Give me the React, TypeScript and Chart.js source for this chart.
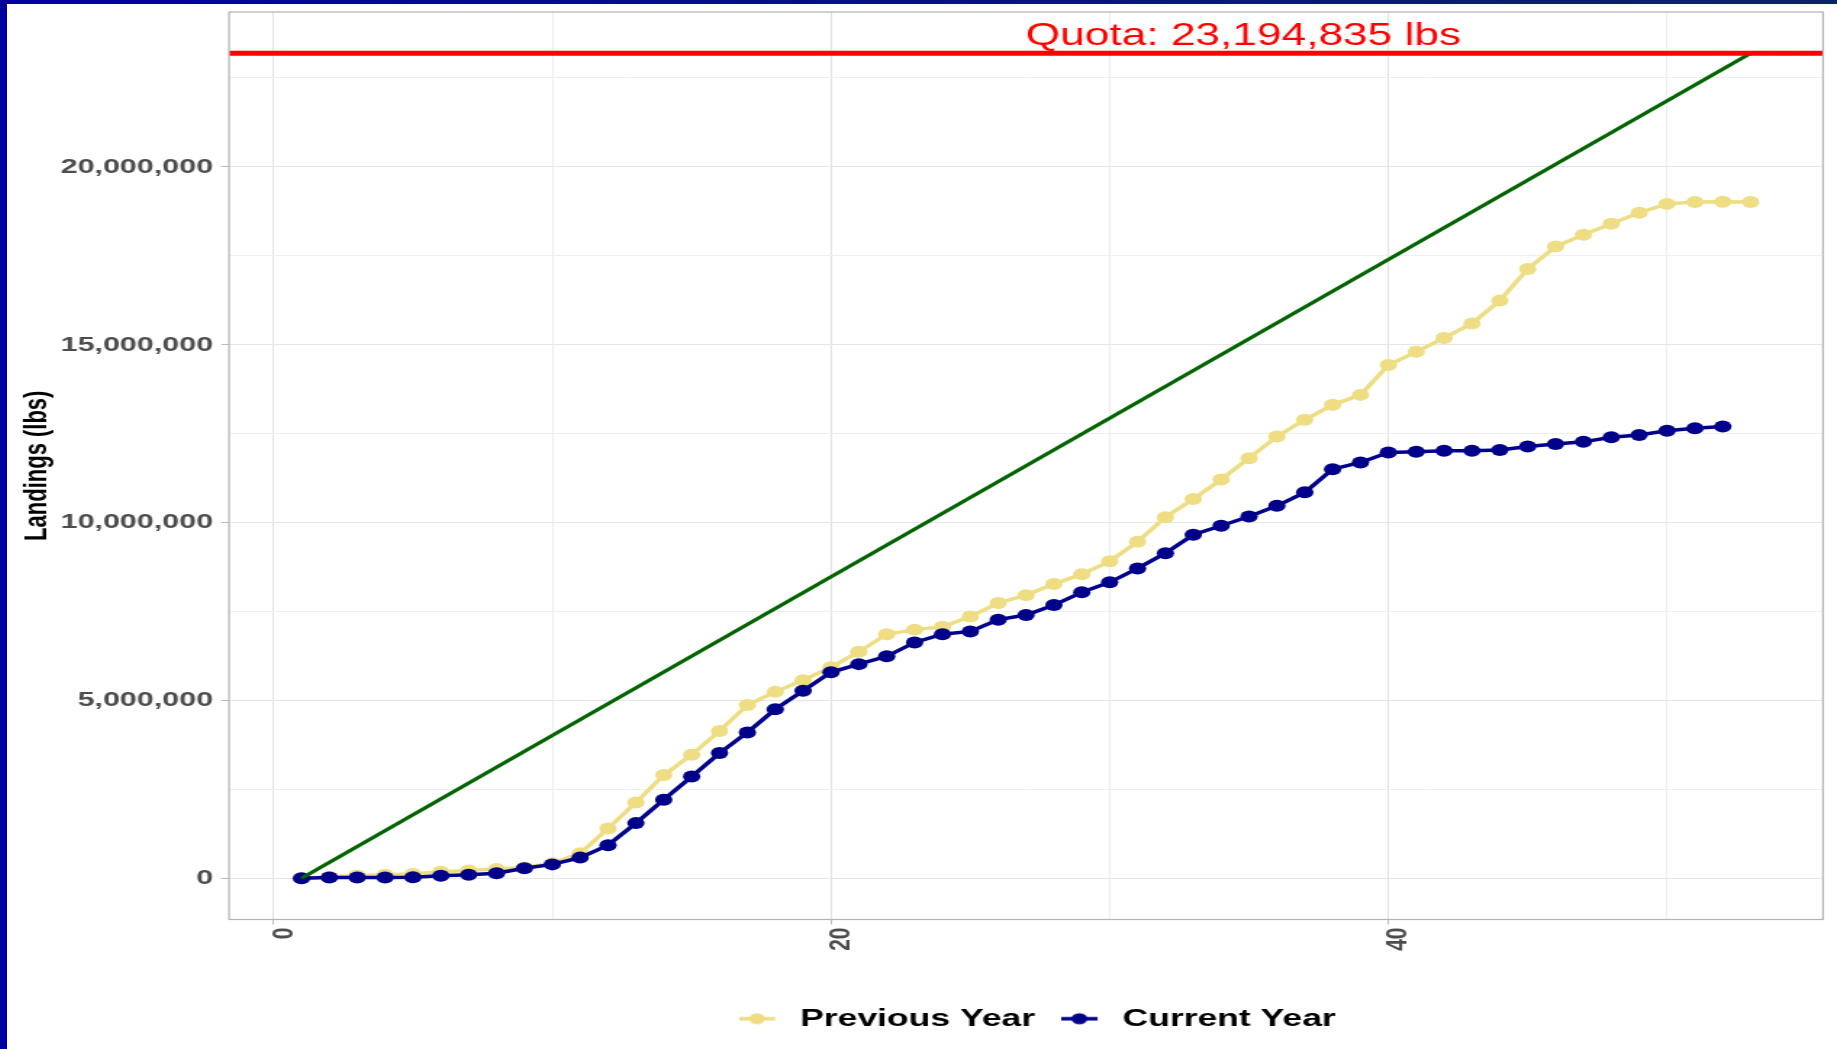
import React, { useEffect, useRef } from 'react';
import { Chart, registerables } from 'chart.js';

Chart.register(...registerables);

// ---------------- data ----------------
const QUOTA = 23194835;
const QUOTA_LABEL = 'Quota: 23,194,835 lbs';

const WEEKS_PREV = [
  1, 2, 3, 4, 5, 6, 7, 8, 9, 10, 11, 12, 13, 14, 15, 16, 17, 18, 19, 20, 21, 22, 23, 24, 25, 26,
  27, 28, 29, 30, 31, 32, 33, 34, 35, 36, 37, 38, 39, 40, 41, 42, 43, 44, 45, 46, 47, 48, 49, 50,
  51, 52, 53,
];
const PREV_LBS = [
  0, 40000, 80000, 100000, 120000, 180000, 220000, 260000, 300000, 420000, 700000, 1400000,
  2130000, 2900000, 3470000, 4140000, 4870000, 5240000, 5570000, 5930000, 6370000, 6860000,
  6990000, 7070000, 7360000, 7740000, 7960000, 8270000, 8550000, 8910000, 9460000, 10150000,
  10660000, 11210000, 11810000, 12420000, 12890000, 13310000, 13590000, 14430000, 14800000,
  15190000, 15600000, 16240000, 17130000, 17760000, 18090000, 18400000, 18710000, 18960000,
  19010000, 19020000, 19010000,
];

const WEEKS_CUR = [
  1, 2, 3, 4, 5, 6, 7, 8, 9, 10, 11, 12, 13, 14, 15, 16, 17, 18, 19, 20, 21, 22, 23, 24, 25, 26,
  27, 28, 29, 30, 31, 32, 33, 34, 35, 36, 37, 38, 39, 40, 41, 42, 43, 44, 45, 46, 47, 48, 49, 50,
  51, 52,
];
const CUR_LBS = [
  0, 20000, 20000, 20000, 30000, 70000, 100000, 140000, 280000, 390000, 580000, 930000, 1550000,
  2210000, 2860000, 3520000, 4100000, 4750000, 5270000, 5790000, 6020000, 6240000, 6630000,
  6860000, 6940000, 7270000, 7400000, 7680000, 8040000, 8320000, 8710000, 9140000, 9660000,
  9910000, 10170000, 10470000, 10850000, 11500000, 11690000, 11970000, 11990000, 12020000,
  12020000, 12040000, 12140000, 12210000, 12270000, 12400000, 12460000, 12580000, 12650000,
  12700000,
];

const PACE_WEEKS = [1, 53];
const PACE_LBS = [0, QUOTA];

const Y_GRID = [0, 2500000, 5000000, 7500000, 10000000, 12500000, 15000000, 17500000, 20000000, 22500000];
const Y_LABELED = [0, 5000000, 10000000, 15000000, 20000000];
const X_GRID = [0, 10, 20, 30, 40, 50];
const X_LABELED = [0, 20, 40];

const SERIES_NAMES = ['Quota pace', 'Current Year', 'Previous Year'];

// ---------------- layout ----------------
const PAGE_W = 1837;
const PAGE_H = 1049;
const FRAME_L = 7;
const FRAME_T = 4;
const CSS_W = PAGE_W - FRAME_L;
const CSS_H = PAGE_H - FRAME_T;
const STRETCH = 1.45;
const CANVAS_W = Math.round(CSS_W / STRETCH);
const PANEL_LEFT = (229 - FRAME_L) / STRETCH;
const PANEL_RIGHT = (1823 - FRAME_L) / STRETCH;
const QUOTA_LABEL_X = 34.8;

const X_RANGE = WEEKS_PREV[WEEKS_PREV.length - 1] - WEEKS_PREV[0];
const X_MIN = WEEKS_PREV[0] - 0.05 * X_RANGE;
const X_MAX = WEEKS_PREV[WEEKS_PREV.length - 1] + 0.05 * X_RANGE;
const Y_MIN = -0.05 * QUOTA;
const Y_MAX = QUOTA * 1.05;

const COL_PREV = '#eedd82';
const COL_CUR = '#00008b';
const COL_PACE = '#006400';
const COL_QUOTA = '#ff0000';

const SANS = '"Liberation Sans", Arial, Helvetica, sans-serif';

function legendMarker(color: string): HTMLCanvasElement {
  const c = document.createElement('canvas');
  c.width = 30;
  c.height = 14;
  const g = c.getContext('2d')!;
  g.strokeStyle = color;
  g.lineWidth = 3.5;
  g.beginPath();
  g.moveTo(0, 7);
  g.lineTo(25, 7);
  g.stroke();
  g.fillStyle = color;
  g.beginPath();
  g.arc(12.5, 7, 5.5, 0, Math.PI * 2);
  g.fill();
  return c;
}

const fmt = (v: number) => v.toLocaleString('en-US');

export default function App() {
  const ref = useRef<HTMLCanvasElement>(null);

  useEffect(() => {
    const canvas = ref.current;
    if (!canvas) return;
    const markers: Record<number, HTMLCanvasElement> = {
      1: legendMarker(COL_CUR),
      2: legendMarker(COL_PREV),
    };

    const decor = {
      id: 'decor',
      afterLayout(chart: any) {
        const lg = chart.legend;
        if (lg) {
          lg.left = 160;
          lg.right = 1261;
          lg.width = lg.right - lg.left;
        }
      },
      afterDatasetsDraw(chart: any) {
        const { ctx, chartArea: a, scales } = chart;
        const y = scales.y.getPixelForValue(QUOTA);
        ctx.save();
        ctx.strokeStyle = COL_QUOTA;
        ctx.lineWidth = 5;
        ctx.beginPath();
        ctx.moveTo(a.left, y);
        ctx.lineTo(a.right, y);
        ctx.stroke();
        ctx.fillStyle = COL_QUOTA;
        ctx.font = `30.5px ${SANS}`;
        ctx.textAlign = 'center';
        ctx.textBaseline = 'alphabetic';
        ctx.fillText(QUOTA_LABEL, scales.x.getPixelForValue(QUOTA_LABEL_X), y - 8);
        ctx.strokeStyle = '#b3b3b3';
        ctx.lineWidth = 1.2;
        ctx.strokeRect(a.left, a.top, a.right - a.left, a.bottom - a.top);
        ctx.restore();
      },
    };

    const chart = new Chart(canvas, {
      type: 'line',
      data: {
        datasets: [
          {
            label: SERIES_NAMES[0],
            data: PACE_WEEKS.map((w, i) => ({ x: w, y: PACE_LBS[i] })),
            borderColor: COL_PACE,
            backgroundColor: COL_PACE,
            borderWidth: 3.2,
            pointRadius: 0,
          },
          {
            label: SERIES_NAMES[1],
            data: WEEKS_CUR.map((w, i) => ({ x: w, y: CUR_LBS[i] })),
            borderColor: COL_CUR,
            backgroundColor: COL_CUR,
            borderWidth: 3.5,
            pointRadius: 6,
            pointBorderWidth: 0,
            pointBackgroundColor: COL_CUR,
          },
          {
            label: SERIES_NAMES[2],
            data: WEEKS_PREV.map((w, i) => ({ x: w, y: PREV_LBS[i] })),
            borderColor: COL_PREV,
            backgroundColor: COL_PREV,
            borderWidth: 3.5,
            pointRadius: 6,
            pointBorderWidth: 0,
            pointBackgroundColor: COL_PREV,
          },
        ],
      },
      options: {
        animation: false,
        responsive: false,
        devicePixelRatio: 1,
        events: [],
        layout: { padding: { left: 0, right: CANVAS_W - PANEL_RIGHT, top: 8, bottom: 8 } },
        plugins: {
          tooltip: { enabled: false },
          legend: {
            position: 'bottom',
            labels: {
              usePointStyle: true,
              pointStyleWidth: 30,
              padding: 18,
              color: '#000000',
              font: { family: SANS, size: 24.5, weight: 'bold' },
              filter: (item: any) => item.datasetIndex !== 0,
              sort: (a: any, b: any) => b.datasetIndex - a.datasetIndex,
              generateLabels: (c: any) => {
                const items = (Chart.defaults.plugins.legend.labels as any).generateLabels(c);
                return items.map((it: any) => ({
                  ...it,
                  pointStyle: markers[it.datasetIndex] || it.pointStyle,
                  lineWidth: 0,
                }));
              },
            },
          },
        },
        scales: {
          x: {
            type: 'linear',
            min: X_MIN,
            max: X_MAX,
            afterBuildTicks: (s: any) => {
              s.ticks = X_GRID.map((v) => ({ value: v }));
            },
            afterFit: (s: any) => {
              s.height = 69;
              s.paddingLeft = 0;
              s.paddingRight = 0;
            },
            border: { display: false },
            grid: {
              color: (c: any) => (c.tick && c.tick.value % 20 === 0 ? '#e2e2e2' : '#ececec'),
              lineWidth: 1,
              tickLength: 5,
              tickColor: (c: any) =>
                c.tick && X_LABELED.includes(c.tick.value) ? '#bdbdbd' : 'rgba(0,0,0,0)',
            },
            ticks: {
              autoSkip: false,
              minRotation: 90,
              maxRotation: 90,
              padding: 3,
              labelOffset: 7,
              color: '#4d4d4d',
              font: { family: SANS, size: 21, weight: 'bold' },
              callback: (v: any) => (X_LABELED.includes(Number(v)) ? String(v) : ''),
            },
          },
          y: {
            type: 'linear',
            min: Y_MIN,
            max: Y_MAX,
            afterBuildTicks: (s: any) => {
              s.ticks = Y_GRID.map((v) => ({ value: v }));
            },
            afterFit: (s: any) => {
              s.width = PANEL_LEFT;
              s.paddingTop = 0;
              s.paddingBottom = 0;
            },
            border: { display: false },
            title: {
              display: true,
              text: 'Landings (lbs)',
              color: '#000000',
              font: { family: SANS, size: 22, weight: 'bold' },
              padding: { top: 7.5, bottom: 0 },
            },
            grid: {
              color: (c: any) => (c.tick && c.tick.value % 5000000 === 0 ? '#e6e6e6' : '#efefef'),
              lineWidth: 1,
              tickLength: 5.5,
              tickColor: (c: any) =>
                c.tick && Y_LABELED.includes(c.tick.value) ? '#bdbdbd' : 'rgba(0,0,0,0)',
            },
            ticks: {
              padding: 5.5,
              color: '#4d4d4d',
              font: { family: SANS, size: 21, weight: 'bold' },
              callback: (v: any) => (Y_LABELED.includes(Number(v)) ? fmt(Number(v)) : ''),
            },
          },
        },
      } as any,
      plugins: [decor],
    });

    return () => chart.destroy();
  }, []);

  return (
    <div
      style={{
        position: 'fixed',
        left: 0,
        top: 0,
        width: PAGE_W,
        height: PAGE_H,
        background: '#ffffff',
        overflow: 'hidden',
      }}
    >
      <div
        style={{
          position: 'absolute',
          left: 0,
          top: 0,
          width: PAGE_W,
          height: FRAME_T,
          background: 'linear-gradient(to right, #0000a0, #0a2468)',
        }}
      />
      <div
        style={{
          position: 'absolute',
          left: 0,
          top: 0,
          width: FRAME_L,
          height: PAGE_H,
          background: '#0000a0',
        }}
      />
      <canvas
        ref={ref}
        width={CANVAS_W}
        height={CSS_H}
        style={{ position: 'absolute', left: FRAME_L, top: FRAME_T, width: CSS_W, height: CSS_H }}
      />
    </div>
  );
}
